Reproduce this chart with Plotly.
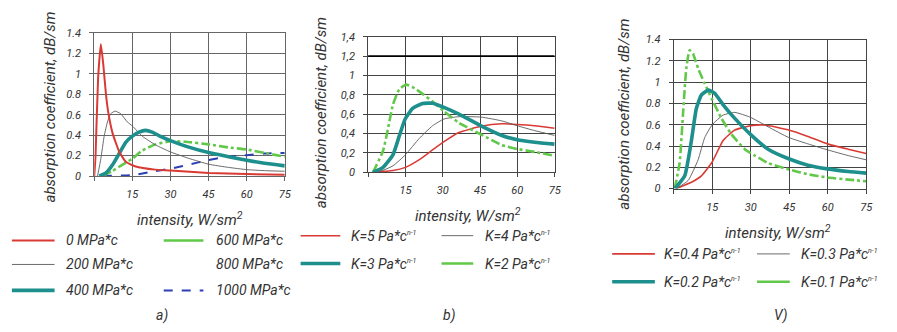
import plotly.graph_objects as go

W, H = 897, 332
FONT = "Roboto, Liberation Sans, sans-serif"
TXT = "#333333"
GRID_A = "#666666"
GRID_BC = "#444444"

RED = "#d93a34"
GRAY = "#5a5a5a"
TEAL = "#1d8f8c"
GREEN = "#62c84a"
BLUE = "#2c3fb3"

X_TICKS = [0, 15, 30, 45, 60, 75]
X_TICKTEXT = ["", "15", "30", "45", "60", "75"]
Y_TICKS = [0, 0.2, 0.4, 0.6, 0.8, 1.0, 1.2, 1.4]
Y_TICKTEXT_DOT = ["0", "0.2", "0.4", "0.6", "0.8", "1", "1.2", "1.4"]
Y_TICKTEXT_COMMA = ["0", "0,2", "0,4", "0,6", "0,8", "1", "1,2", "1,4"]

Y_TITLE = "absorption coefficient, dB/sm"
X_TITLE = "intensity, W/sm<sup>2</sup>"

# ---------------- panel a): pressure series ----------------
a_names = ["0 MPa*c", "200 MPa*c", "400 MPa*c", "600 MPa*c", "800 MPa*c", "1000 MPa*c"]

a0_x = [0, 0.5, 1.5, 2.6, 3.6, 4.6, 5.6, 7.2, 9.8, 12.4, 16.3, 24, 30, 45, 60, 75]
a0_y = [0, 0.2, 0.95, 1.29, 1.08, 0.80, 0.61, 0.42, 0.24, 0.14, 0.094, 0.063, 0.055, 0.03, 0.02, 0.012]

a200_x = [1.3, 2.6, 3.9, 5.2, 6.5, 8.2, 10.4, 13, 15, 18.9, 24.1, 30, 37.2, 45, 52.8, 60, 67, 75]
a200_y = [0, 0.17, 0.39, 0.53, 0.61, 0.635, 0.61, 0.53, 0.49, 0.39, 0.305, 0.236, 0.173, 0.116, 0.085, 0.063, 0.053, 0.047]

a400_x = [2, 4.6, 7.2, 9.8, 12.4, 15, 17.6, 20.2, 22.8, 26.7, 30, 37.2, 45, 52.8, 60, 67, 75]
a400_y = [0, 0.03, 0.11, 0.22, 0.33, 0.39, 0.43, 0.447, 0.43, 0.38, 0.346, 0.283, 0.23, 0.19, 0.155, 0.125, 0.1]

a600_x = [3.3, 7.2, 11, 15, 18.9, 24.1, 30, 35.9, 45, 52.8, 60, 67, 75]
a600_y = [0, 0.05, 0.11, 0.17, 0.25, 0.31, 0.34, 0.336, 0.31, 0.28, 0.26, 0.226, 0.19]

a1000_x = [3.3, 15, 24, 30, 37, 45, 52.8, 60, 67, 75]
a1000_y = [0, 0.01, 0.047, 0.072, 0.11, 0.157, 0.19, 0.204, 0.22, 0.226]

# ---------------- panel b): consistency K series ----------------
b_names = ["K=5 Pa*c", "K=4 Pa*c", "K=3 Pa*c", "K=2 Pa*c"]

b5_x = [2, 10, 15, 20.6, 25.9, 30.5, 36.5, 45.4, 53.8, 60, 67, 75]
b5_y = [0, 0.017, 0.05, 0.13, 0.23, 0.315, 0.41, 0.474, 0.5, 0.494, 0.48, 0.455]

b4_x = [2, 6, 10, 15, 20.6, 25.9, 30.5, 36.5, 45.4, 53.8, 60, 67, 75]
b4_y = [0, 0.02, 0.066, 0.18, 0.35, 0.48, 0.55, 0.574, 0.57, 0.53, 0.48, 0.43, 0.38]

b3_x = [2, 6, 10, 12.6, 14.9, 17.9, 21.9, 25.9, 30.5, 36.5, 45.4, 53.8, 60, 67, 75]
b3_y = [0, 0.05, 0.18, 0.38, 0.55, 0.66, 0.71, 0.713, 0.67, 0.6, 0.48, 0.38, 0.335, 0.31, 0.29]

b2_x = [2, 6, 8, 10, 12.6, 15.3, 17.9, 21.9, 25.9, 30.5, 36.5, 45.4, 53.8, 60, 67, 75]
b2_y = [0, 0.22, 0.45, 0.70, 0.86, 0.905, 0.88, 0.81, 0.73, 0.63, 0.51, 0.39, 0.28, 0.24, 0.21, 0.17]

# ---------------- panel V): consistency K series ----------------
c_names = ["K=0.4 Pa*c", "K=0.3 Pa*c", "K=0.2 Pa*c", "K=0.1 Pa*c"]

c4_x = [1, 6.9, 10.8, 15, 19.2, 23.8, 29.9, 35.5, 44.8, 52.3, 59.9, 68, 75]
c4_y = [0, 0.06, 0.12, 0.25, 0.45, 0.55, 0.59, 0.597, 0.55, 0.49, 0.42, 0.37, 0.33]

c3_x = [1, 5.6, 9.5, 12.1, 15, 19.2, 23.8, 29.9, 36.8, 44.8, 52.3, 59.9, 68, 75]
c3_y = [0, 0.075, 0.27, 0.48, 0.6, 0.69, 0.716, 0.67, 0.58, 0.48, 0.42, 0.364, 0.31, 0.27]

c2_x = [0.5, 4.3, 6.9, 8.8, 10.8, 13.4, 16, 19.2, 23.8, 29.9, 36.8, 44.8, 52.3, 59.9, 68, 75]
c2_y = [0, 0.12, 0.45, 0.75, 0.88, 0.925, 0.895, 0.79, 0.66, 0.51, 0.37, 0.28, 0.22, 0.185, 0.16, 0.145]

c1_x = [0.4, 2.3, 3.6, 4.9, 6.2, 7.5, 9.5, 12.1, 15, 18.6, 22.5, 27.7, 31.6, 36.8, 44.8, 52.3, 59.9, 68, 75]
c1_y = [0, 0.24, 0.69, 1.13, 1.30, 1.27, 1.13, 0.985, 0.836, 0.66, 0.51, 0.37, 0.31, 0.24, 0.18, 0.134, 0.104, 0.084, 0.069]


def px(x):
    return x / W


def py(y):
    return 1 - y / H


fig = go.Figure()


def curve(x, y, ax, color, width, dash="solid"):
    fig.add_trace(go.Scatter(
        x=x, y=y, mode="lines", xaxis="x" + ax, yaxis="y" + ax,
        line=dict(color=color, width=width, dash=dash, shape="spline", smoothing=0.45),
        showlegend=False, hoverinfo="skip",
    ))


# panel a)
curve(a1000_x, a1000_y, "", BLUE, 2, "dash")
curve(a600_x, a600_y, "", GREEN, 2.6, "dashdot")
curve(a200_x, a200_y, "", GRAY, 0.9)
curve(a400_x, a400_y, "", TEAL, 3.6)
curve(a0_x, a0_y, "", RED, 2)

# panel b)
curve(b5_x, b5_y, "2", RED, 1.5)
curve(b4_x, b4_y, "2", GRAY, 0.9)
curve(b2_x, b2_y, "2", GREEN, 2.6, "dashdot")
curve(b3_x, b3_y, "2", TEAL, 3.6)

# panel V)
curve(c4_x, c4_y, "3", RED, 1.6)
curve(c3_x, c3_y, "3", GRAY, 0.9)
curve(c1_x, c1_y, "3", GREEN, 2.6, "dashdot")
curve(c2_x, c2_y, "3", TEAL, 3.6)

tick_font = dict(family=FONT, size=11, color=TXT, style="italic")


def make_axes(left, right, top, bottom, yticktext, suffix, grid):
    xa = dict(
        domain=[px(left), px(right)], range=[0, 75], anchor="y" + suffix,
        tickmode="array", tickvals=X_TICKS, ticktext=X_TICKTEXT,
        showgrid=True, gridcolor=grid, gridwidth=1,
        showline=True, linecolor=grid, linewidth=1, mirror=True,
        ticks="outside", ticklen=4, tickcolor=grid, tickfont=tick_font,
        ticklabelstandoff=4, zeroline=False, fixedrange=True,
    )
    ya = dict(
        domain=[py(bottom), py(top)], range=[0, 1.4], anchor="x" + suffix,
        tickmode="array", tickvals=Y_TICKS, ticktext=yticktext,
        showgrid=True, gridcolor=grid, gridwidth=1,
        showline=True, linecolor=grid, linewidth=1, mirror=True,
        ticks="outside", ticklen=4, tickcolor=grid, tickfont=tick_font,
        ticklabelstandoff=6, zeroline=False, fixedrange=True,
    )
    return xa, ya


xa1, ya1 = make_axes(95, 287, 28, 177, Y_TICKTEXT_DOT, "", GRID_A)
xa2, ya2 = make_axes(371, 559, 32, 173, Y_TICKTEXT_COMMA, "2", GRID_BC)
xa3, ya3 = make_axes(679, 873, 35, 190, Y_TICKTEXT_DOT, "3", GRID_BC)

fig.update_layout(
    width=W, height=H, margin=dict(l=0, r=0, t=0, b=0),
    paper_bgcolor="white", plot_bgcolor="white",
    xaxis=xa1, yaxis=ya1, xaxis2=xa2, yaxis2=ya2, xaxis3=xa3, yaxis3=ya3,
    font=dict(family=FONT, color=TXT, style="italic"),
)

# emphasised 1.2 grid line in panel b)
fig.add_shape(type="line", xref="x2", yref="y2", x0=0, x1=75, y0=1.2, y1=1.2,
              line=dict(color="black", width=1.6), layer="above")

annotations = []


def text(x, y, s, size=14, xanchor="left", angle=0):
    annotations.append(dict(
        x=px(x), y=py(y), xref="paper", yref="paper", text=s, showarrow=False,
        xanchor=xanchor, yanchor="middle", textangle=angle,
        font=dict(family=FONT, size=size, color=TXT, style="italic"),
    ))


def sample(x0, x1, y, color, width, dash="solid"):
    fig.add_shape(type="line", xref="paper", yref="paper",
                  x0=px(x0), x1=px(x1), y0=py(y), y1=py(y),
                  line=dict(color=color, width=width, dash=dash))


# axis titles
text(50, 105, Y_TITLE, 15, "center", -90)
text(323, 111, Y_TITLE, 15, "center", -90)
text(628, 113, Y_TITLE, 15, "center", -90)
text(191, 222, X_TITLE, 15, "center")
text(472, 217, X_TITLE, 15, "center")
text(784, 235, X_TITLE, 15, "center")

# legend a)
sample(12, 55, 244, RED, 2)
sample(12, 55, 269, GRAY, 0.9)
sample(12, 55, 296, TEAL, 3.6)
sample(165, 205, 244, GREEN, 2.6)
sample(165, 205, 296, BLUE, 2, "dash")
text(65, 244, a_names[0])
text(65, 269, a_names[1])
text(65, 296, a_names[2])
text(216, 244, a_names[3])
text(216, 269, a_names[4])
text(216, 296, a_names[5])

SUP = "<sup><span style='font-size:7px'>n-1</span></sup>"
# legend b)
sample(303, 343, 239, RED, 1.5)
sample(445, 477, 239, GRAY, 0.9)
sample(303, 343, 268, TEAL, 3.6)
sample(445, 477, 268, GREEN, 2.6)
text(352, 239, b_names[0] + SUP)
text(487, 239, b_names[1] + SUP)
text(352, 268, b_names[2] + SUP)
text(487, 268, b_names[3] + SUP)

# legend V)
sample(617, 660, 258, RED, 1.6)
sample(763, 796, 258, GRAY, 0.9)
sample(617, 660, 287, TEAL, 3.6)
sample(763, 796, 287, GREEN, 2.6)
text(667, 258, c_names[0] + SUP)
text(805, 258, c_names[1] + SUP)
text(667, 287, c_names[2] + SUP)
text(805, 287, c_names[3] + SUP)

# panel captions
text(163, 322, "a)", 14, "center")
text(453, 322, "b)", 14, "center")
text(787, 322, "V)", 14, "center")

fig.update_layout(annotations=annotations)
fig.write_html("out.html")
